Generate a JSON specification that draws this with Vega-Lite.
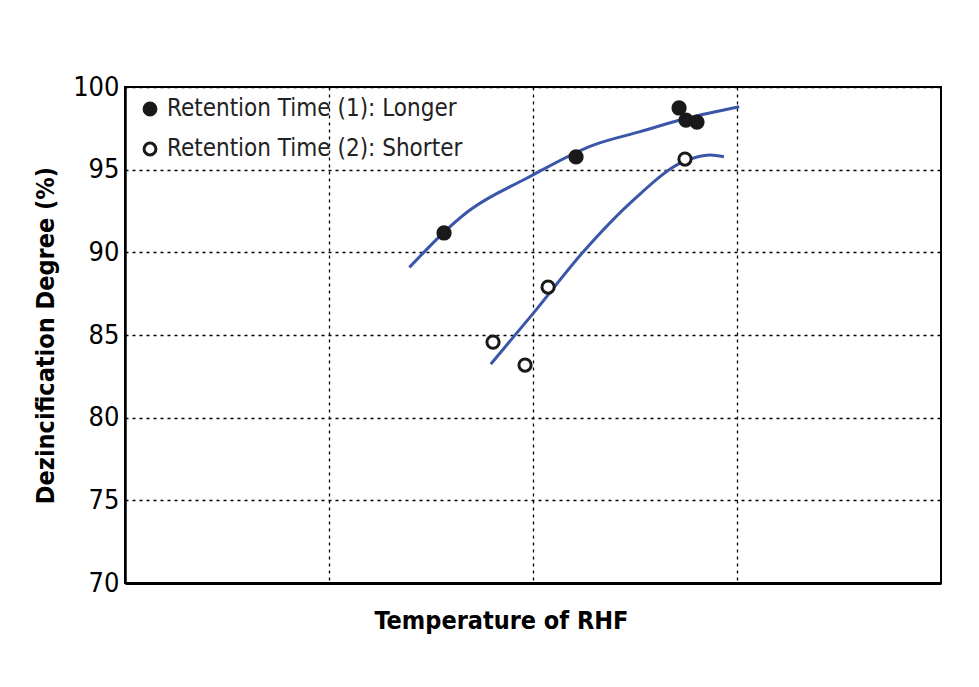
{
  "$schema": "https://vega.github.io/schema/vega-lite/v6.json",
  "width": 816,
  "height": 496,
  "autosize": "none",
  "padding": {"left": 125, "top": 87, "right": 38, "bottom": 104},
  "background": "white",
  "config": {
    "view": {"stroke": "black", "strokeWidth": 2},
    "font": "DejaVu Sans Condensed, sans-serif"
  },
  "datasets": {
    "points": [
      {"x": 1.564, "y": 91.17, "series": "Retention Time (1): Longer"},
      {"x": 2.211, "y": 95.77, "series": "Retention Time (1): Longer"},
      {"x": 2.716, "y": 98.73, "series": "Retention Time (1): Longer"},
      {"x": 2.750, "y": 98.0, "series": "Retention Time (1): Longer"},
      {"x": 2.804, "y": 97.88, "series": "Retention Time (1): Longer"},
      {"x": 1.804, "y": 84.57, "series": "Retention Time (2): Shorter"},
      {"x": 1.961, "y": 83.18, "series": "Retention Time (2): Shorter"},
      {"x": 2.074, "y": 87.9, "series": "Retention Time (2): Shorter"},
      {"x": 2.745, "y": 95.64, "series": "Retention Time (2): Shorter"}
    ],
    "curves": [
      {"x": 1.394, "y": 89.09, "curve": "long"},
      {"x": 1.691, "y": 92.56, "curve": "long"},
      {"x": 1.969, "y": 94.48, "curve": "long"},
      {"x": 2.296, "y": 96.49, "curve": "long"},
      {"x": 2.525, "y": 97.30, "curve": "long"},
      {"x": 2.753, "y": 98.11, "curve": "long"},
      {"x": 3.011, "y": 98.81, "curve": "long"},
      {"x": 1.793, "y": 83.24, "curve": "short"},
      {"x": 2.001, "y": 86.31, "curve": "short"},
      {"x": 2.247, "y": 90.04, "curve": "short"},
      {"x": 2.492, "y": 93.16, "curve": "short"},
      {"x": 2.737, "y": 95.48, "curve": "short"},
      {"x": 2.868, "y": 95.89, "curve": "short"},
      {"x": 2.936, "y": 95.78, "curve": "short"}
    ]
  },
  "encoding": {
    "x": {
      "field": "x", "type": "quantitative",
      "scale": {"domain": [0, 4], "nice": false, "zero": false},
      "axis": {
        "values": [1, 2, 3], "labels": false, "ticks": false,
        "domainColor": "black", "domainWidth": 3,
        "grid": true, "gridColor": "black", "gridDash": [3, 4], "gridWidth": 1.3, "gridOpacity": 1,
        "title": "Temperature of RHF", "titleFont": "DejaVu Sans Condensed, sans-serif", "titleFontSize": 25,
        "titleFontWeight": "bold", "titleColor": "black", "titlePadding": 25, "titleX": 376
      }
    },
    "y": {
      "field": "y", "type": "quantitative",
      "scale": {"domain": [70, 100], "nice": false, "zero": false},
      "axis": {
        "values": [70, 75, 80, 85, 90, 95, 100], "ticks": false,
        "labelFont": "DejaVu Sans Condensed, sans-serif", "labelFontSize": 27, "labelColor": "black", "labelPadding": 6,
        "domainColor": "black", "domainWidth": 2.5,
        "grid": true, "gridColor": "black", "gridDash": [3, 4], "gridWidth": 1.3, "gridOpacity": 1,
        "title": "Dezincification Degree (%)", "titleFont": "DejaVu Sans Condensed, sans-serif", "titleFontSize": 25,
        "titleFontWeight": "bold", "titleColor": "black", "titlePadding": 14
      }
    }
  },
  "layer": [
    {
      "data": {"name": "curves"},
      "mark": {"type": "line", "color": "#3a56a8", "strokeWidth": 3, "interpolate": "monotone"},
      "encoding": {"detail": {"field": "curve", "type": "nominal"}}
    },
    {
      "data": {"name": "points"},
      "mark": {"type": "point", "filled": true, "stroke": "#1a1a1a", "strokeWidth": 3, "size": 150, "opacity": 1},
      "encoding": {
        "fill": {
          "field": "series", "type": "nominal",
          "scale": {"domain": ["Retention Time (1): Longer", "Retention Time (2): Shorter"], "range": ["#1a1a1a", "white"]},
          "legend": {
            "title": null, "orient": "none", "legendX": 13, "legendY": 10, "padding": 0,
            "symbolType": "circle", "symbolSize": 140, "symbolStrokeColor": "#1a1a1a", "symbolStrokeWidth": 3,
            "labelFont": "DejaVu Sans Condensed, sans-serif", "labelFontSize": 24, "labelColor": "#222",
            "labelLimit": 500, "rowPadding": 16, "labelOffset": 5
          }
        }
      }
    }
  ]
}
